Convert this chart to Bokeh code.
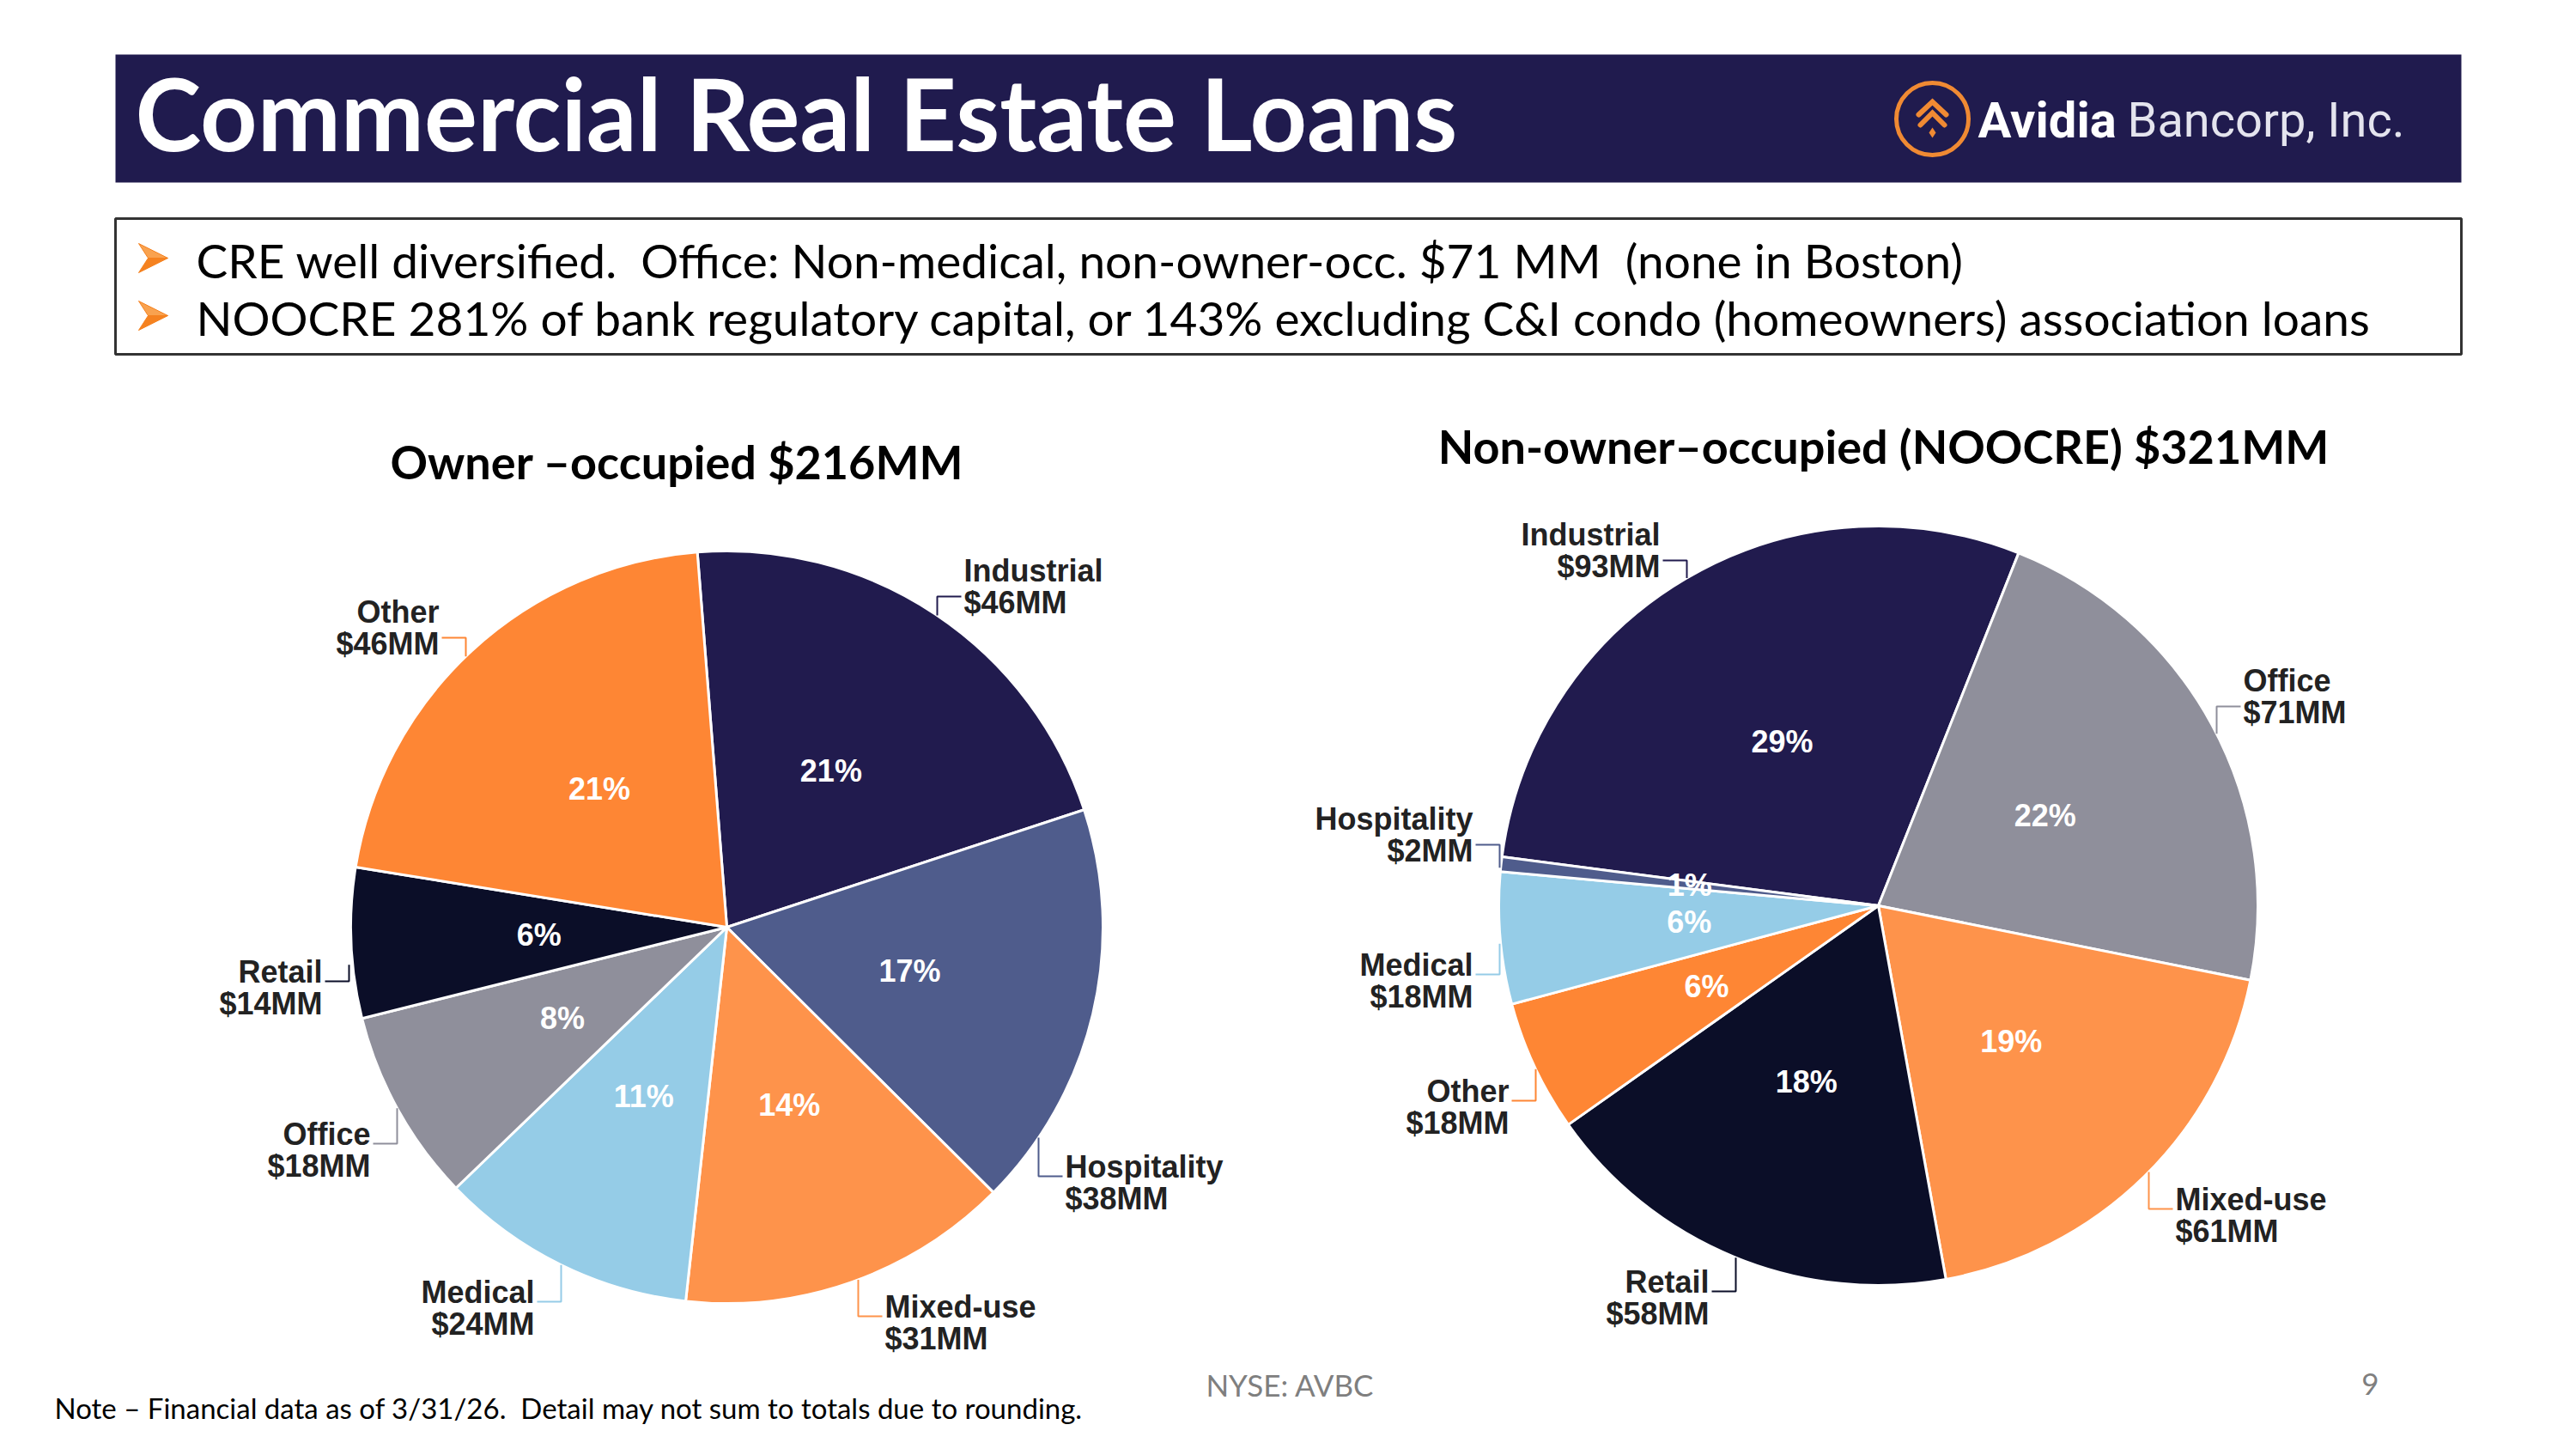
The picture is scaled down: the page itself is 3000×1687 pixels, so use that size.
import math
from bokeh.plotting import figure
from bokeh.models import Range1d, ColumnDataSource
from bokeh.core.properties import value
from bokeh.embed import file_html
from bokeh.resources import INLINE

W, H = 3000, 1687

# ---------------- data ----------------
title_text = "Commercial Real Estate Loans"
bullet_lines = [
    "CRE well diversified. \u00a0Office: Non-medical, non-owner-occ. $71 MM \u00a0(none in Boston)",
    "NOOCRE 281% of bank regulatory capital, or 143% excluding C&I condo (homeowners) association loans",
]

owner_title = "Owner \u2013occupied $216MM"
owner_categories = ["Industrial", "Hospitality", "Mixed-use", "Medical", "Office", "Retail", "Other"]
owner_values = [46, 38, 31, 24, 18, 14, 46]
owner_pct = ["21%", "17%", "14%", "11%", "8%", "6%", "21%"]

noo_title = "Non-owner\u2013occupied (NOOCRE) $321MM"
noo_categories = ["Industrial", "Office", "Mixed-use", "Retail", "Other", "Medical", "Hospitality"]
noo_values = [93, 71, 61, 58, 18, 18, 2]
noo_pct = ["29%", "22%", "19%", "18%", "6%", "6%", "1%"]

footer_note = "Note \u2013 Financial data as of 3/31/26. \u00a0Detail may not sum to totals due to rounding."
footer_center = "NYSE: AVBC"
page_number = "9"

# ---------------- styles ----------------
colors = {
    "Industrial": "#211b4e",
    "Hospitality": "#4f5c8c",
    "Mixed-use": "#fe934b",
    "Medical": "#95cce7",
    "Office": "#8f8f9b",
    "Retail": "#0b0e28",
    "Other": "#fe8634",
}
NAVY = "#201b4e"
ORANGE = "#f08a33"

# label layout (offsets from pie centre, screen px) : (dx, dy, align)
owner_layout = {
    "Industrial": (276, -415, "left"),
    "Hospitality": (394, 279, "left"),
    "Mixed-use": (184, 442, "left"),
    "Medical": (-224, 425, "right"),
    "Office": (-415, 241, "right"),
    "Retail": (-471, 52, "right"),
    "Other": (-335, -367, "right"),
}
noo_layout = {
    "Industrial": (-254, -432, "right"),
    "Office": (425, -262, "left"),
    "Mixed-use": (346, 342, "left"),
    "Retail": (-197, 438, "right"),
    "Other": (-430, 216, "right"),
    "Medical": (-472, 69, "right"),
    "Hospitality": (-472, -101, "right"),
}


def sy(v):
    return H - v


p = figure(width=W, height=H, x_range=Range1d(0, W), y_range=Range1d(0, H),
           output_backend="svg", toolbar_location=None, min_border=0)
p.axis.visible = False
p.grid.visible = False
p.outline_line_color = None
p.background_fill_color = "white"
p.border_fill_color = "white"

# ---- title bar ----
p.quad(left=[134], right=[2866], top=[sy(63)], bottom=[sy(212)], fill_color=NAVY, line_color=None)
p.text(x=[157], y=[sy(131)], text=[title_text], text_font=value("Lato"), text_font_style="bold",
       text_font_size="116px", text_color="white", text_baseline="middle", text_align="left")

# logo
lx, ly = 2250, 138
p.scatter(x=[lx], y=[sy(ly)], size=84, marker="circle", fill_color=None, line_color=ORANGE, line_width=5)
chev_dx = [[-16, 0, 16], [-14, 0, 14]]
chev_dy = [[15, 0, 15], [27, 13, 27]]
p.multi_line(xs=[[lx + d for d in row] for row in chev_dx],
             ys=[[sy(ly - 20 + d) for d in row] for row in chev_dy],
             line_color=ORANGE, line_width=6, line_cap="round", line_join="miter")
p.scatter(x=[lx], y=[sy(ly + 16)], marker="diamond", size=12, fill_color=ORANGE, line_color=None)
p.text(x=[2303], y=[sy(139)], text=["Avidia"], text_font=value("Roboto"), text_font_style="bold",
       text_font_size="58px", text_color="white", text_baseline="middle")
p.text(x=[2477], y=[sy(139)], text=["Bancorp, Inc."], text_font=value("Roboto"),
       text_font_size="56px", text_color="#e4e4ee", text_baseline="middle")

# ---- bullet box ----
p.quad(left=[134], right=[2866], top=[sy(254)], bottom=[sy(412)], fill_color=None,
       line_color="#333333", line_width=3)
bullet_y = [300, 367]
bx = 178
for byc in bullet_y:
    up = [(-17, -17), (17, 0), (-6, 0)]
    lo = [(-17, 17), (17, 0), (-6, 0)]
    p.patch([bx + a for a, b in up], [sy(byc + b) for a, b in up], fill_color="#f9a24f", line_color="#f58220", line_width=1)
    p.patch([bx + a for a, b in lo], [sy(byc + b) for a, b in lo], fill_color="#f58220", line_color="#f58220", line_width=1)
p.text(x=[228, 228], y=[sy(b + 2) for b in bullet_y], text=bullet_lines, text_font=value("Lato"),
       text_font_size="55px", text_color="black", text_baseline="middle")


# ---- pies ----
def draw_pie(cx, cy, r, cats, vals, pcts, start_deg, layout):
    total = float(sum(vals))
    t = start_deg
    wd = dict(x=[], y=[], sa=[], ea=[], c=[])
    pl = dict(x=[], y=[], t=[])
    n1 = dict(x=[], y=[], t=[], a=[])
    lead = dict(xs=[], ys=[], c=[])
    for cat, v, pc in zip(cats, vals, pcts):
        span = v / total * 360.0
        t1, t2 = t, t + span
        t = t2
        wd["x"].append(cx)
        wd["y"].append(sy(cy))
        wd["sa"].append(math.radians(90 - t2))
        wd["ea"].append(math.radians(90 - t1))
        wd["c"].append(colors[cat])
        mid = math.radians((t1 + t2) / 2)
        pl["x"].append(cx + 0.5 * r * math.sin(mid))
        pl["y"].append(sy(cy - 0.5 * r * math.cos(mid)))
        pl["t"].append(pc)
        dx, dy, al = layout[cat]
        tx, ty = cx + dx, cy + dy
        gap = 37
        for k, s in enumerate([cat, "$%dMM" % v]):
            n1["x"].append(tx)
            n1["y"].append(sy(ty + k * gap))
            n1["t"].append(s)
            n1["a"].append(al)
        lyv = ty + (30 if dy < 0 else 11)
        vx = tx - 31 if al == "left" else tx + 31
        ddx = vx - cx
        lim = 0.995 * r
        ddx = max(-lim, min(lim, ddx))
        hh = math.sqrt(r * r - ddx * ddx)
        cands = [cy - hh, cy + hh]
        yc = min(cands, key=lambda q: abs(q - lyv))
        lead["xs"].append([tx + (-3 if al == "left" else 3), vx, vx])
        lead["ys"].append([sy(lyv), sy(lyv), sy(yc)])
        lead["c"].append(colors[cat])
    p.wedge(x="x", y="y", radius=r, start_angle="sa", end_angle="ea", fill_color="c",
            line_color="white", line_width=3, source=ColumnDataSource(wd))
    p.multi_line(xs="xs", ys="ys", line_color="c", line_width=2, source=ColumnDataSource(lead))
    p.text(x="x", y="y", text="t", source=ColumnDataSource(pl), text_font=value("Liberation Sans"),
           text_font_style="bold", text_font_size="36px", text_color="white",
           text_align="center", text_baseline="middle")
    p.text(x="x", y="y", text="t", text_align="a", source=ColumnDataSource(n1),
           text_font=value("Liberation Sans"), text_font_style="bold", text_font_size="36px",
           text_color="#222222", text_baseline="middle")


draw_pie(846, 1079, 438, owner_categories, owner_values, owner_pct, -4.5, owner_layout)
draw_pie(2187, 1054, 442, noo_categories, noo_values, noo_pct, -82.6, noo_layout)

p.text(x=[788], y=[sy(537)], text=[owner_title], text_font=value("Lato"), text_font_style="bold",
       text_font_size="54px", text_color="black", text_align="center", text_baseline="middle")
p.text(x=[2193], y=[sy(519)], text=[noo_title], text_font=value("Lato"), text_font_style="bold",
       text_font_size="54px", text_color="black", text_align="center", text_baseline="middle")

# ---- footer ----
p.text(x=[63], y=[sy(1638)], text=[footer_note], text_font=value("Lato"), text_font_size="33px",
       text_color="black", text_baseline="middle")
p.text(x=[1502], y=[sy(1611)], text=[footer_center], text_font=value("Lato"), text_font_size="35px",
       text_color="#7f7f7f", text_align="center", text_baseline="middle")
p.text(x=[2760], y=[sy(1611)], text=[page_number], text_font=value("Lato"), text_font_size="35px",
       text_color="#7f7f7f", text_align="center", text_baseline="middle")

open("out.html", "w").write(file_html(p, INLINE))
